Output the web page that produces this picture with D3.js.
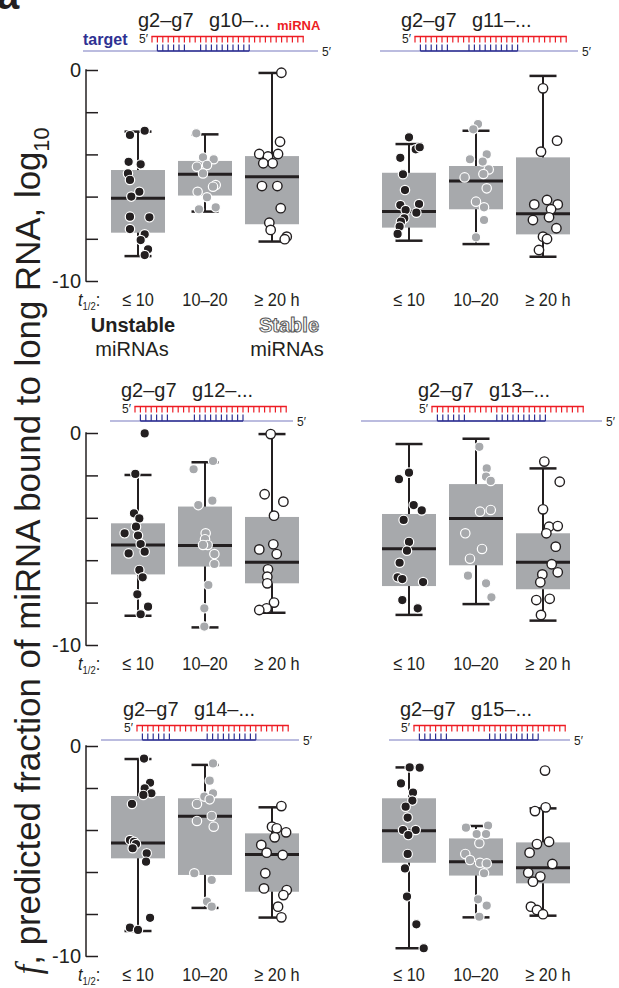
<!DOCTYPE html>
<html>
<head>
<meta charset="utf-8">
<script src="https://d3js.org/d3.v7.min.js"></script>
<style>
  body { margin: 0; background: #fff; }
  svg { display: block; font-family: "Liberation Sans", Arial, Helvetica, sans-serif; }
</style>
</head>
<body>
<div id="container"></div>
<script>
// half-life groups (x categories)
const groups = ["≤ 10", "10–20", "≥ 20 h"];
// first nucleotide of the 3' pairing region in each panel
const siteStarts = [10, 11, 12, 13, 14, 15];
const yTicks = [0, -2, -4, -6, -8, -10];
const yTickLabels = ["0", "", "", "", "", "-10"];

// [low whisker, q1, median, q3, high whisker] for each group, per panel
const boxStats = [
  [[-8.82, -7.71, -6.08, -4.74, -2.92], [-6.71, -5.95, -4.94, -4.31, -3.05], [-8.13, -7.31, -5.06, -4.08, -0.14]],
  [[-8.09, -7.47, -6.71, -4.87, -3.51], [-8.25, -6.6, -5.26, -4.55, -2.88], [-8.85, -7.79, -6.81, -4.14, -0.28]],
  [[-8.62, -6.67, -5.28, -4.26, -1.98], [-9.17, -6.3, -5.31, -3.47, -1.38], [-8.48, -7.09, -6.1, -3.96, -0.05]],
  [[-8.58, -7.22, -5.46, -3.82, -0.52], [-8.07, -6.24, -4.03, -2.41, -0.27], [-8.85, -7.37, -6.1, -4.73, -1.67]],
  [[-8.81, -5.35, -4.62, -2.38, -0.62], [-7.71, -6.14, -3.35, -2.49, -0.9], [-8.17, -6.94, -5.17, -4.16, -2.92]],
  [[-9.63, -5.56, -4.03, -2.49, -1.02], [-8.16, -6.17, -5.51, -4.4, -3.81], [-8.08, -6.54, -5.8, -4.59, -2.97]]
];

// per-miRNA values (log10 f), per panel, per group
const pointValues = [
  [
    [-3.08, -2.88, -4.35, -4.47, -4.9, -5.21, -5.77, -6.0, -6.95, -6.98, -7.54, -7.79, -8.06, -8.5, -8.77],
    [-3.0, -4.14, -4.23, -4.58, -4.5, -4.9, -5.45, -5.53, -5.77, -6.03, -6.6, -6.51],
    [-0.13, -3.4, -3.98, -4.1, -3.98, -4.42, -4.42, -5.5, -5.5, -6.55, -7.24, -7.58, -7.9, -8.02]
  ],
  [
    [-3.19, -3.76, -3.66, -4.16, -4.94, -5.69, -6.4, -6.35, -6.64, -6.76, -7.03, -7.19, -7.42, -7.77],
    [-2.56, -2.81, -4.23, -4.0, -4.34, -4.71, -5.09, -4.93, -5.61, -6.24, -6.51, -7.11, -7.93],
    [-0.87, -3.35, -3.87, -6.37, -6.16, -6.37, -6.6, -6.98, -7.11, -7.5, -7.9, -8.01, -8.53]
  ],
  [
    [-0.02, -1.93, -3.79, -4.03, -4.42, -4.73, -4.84, -5.24, -5.6, -5.68, -6.46, -6.81, -7.61, -8.19, -8.55],
    [-1.32, -1.71, -3.19, -3.4, -4.73, -5.01, -5.28, -5.28, -5.71, -6.18, -7.17, -8.27, -9.13],
    [-0.05, -2.89, -3.24, -3.9, -5.49, -5.25, -5.71, -6.43, -6.78, -7.09, -8.0, -8.27, -8.35]
  ],
  [
    [-1.87, -2.18, -3.4, -3.65, -4.1, -5.14, -5.55, -6.12, -6.81, -6.89, -7.03, -7.88, -8.27],
    [-0.65, -1.67, -2.06, -2.26, -3.71, -3.63, -4.73, -5.47, -5.93, -6.73, -7.09, -7.75],
    [-1.35, -2.3, -3.6, -4.42, -4.39, -4.73, -5.36, -6.19, -6.57, -6.67, -7.04, -7.88, -7.82, -8.58]
  ],
  [
    [-0.6, -1.75, -2.02, -2.25, -2.33, -2.76, -4.48, -4.56, -4.67, -4.87, -5.11, -5.51, -8.18, -8.65, -8.76],
    [-0.83, -1.65, -2.41, -2.25, -2.54, -2.76, -3.33, -3.57, -3.84, -6.06, -6.38, -7.41, -7.65],
    [-2.86, -3.84, -3.92, -4.11, -4.35, -4.71, -5.08, -5.19, -6.06, -6.78, -6.86, -7.1, -7.65, -8.16]
  ],
  [
    [-1.02, -1.03, -1.78, -2.22, -2.6, -2.89, -3.41, -4.0, -4.0, -4.24, -5.14, -5.83, -7.17, -8.49, -9.63],
    [-3.89, -3.79, -4.19, -4.19, -4.63, -5.14, -5.43, -5.56, -5.59, -6.06, -7.3, -7.6, -8.13],
    [-1.17, -3.1, -2.92, -4.67, -4.56, -5.08, -5.62, -6.03, -6.22, -6.46, -7.65, -7.81, -8.01]
  ]
];

// horizontal jitter of each point, in category units
const pointJitter = [
  [
    [-0.12, 0.10, -0.14, 0.04, -0.15, -0.12, 0.02, -0.10, -0.12, 0.17, -0.12, 0.10, 0.04, 0.15, 0.10],
    [-0.13, -0.03, 0.13, -0.12, 0.03, -0.03, 0.16, 0.12, -0.11, 0.03, -0.09, 0.16],
    [0.14, 0.12, -0.19, -0.06, 0.09, 0.01, -0.13, -0.15, 0.08, 0.13, -0.04, -0.02, 0.22, 0.19]
  ],
  [
    [0.0, 0.10, 0.16, -0.13, -0.09, -0.06, -0.13, 0.15, -0.05, 0.11, -0.07, -0.12, -0.14, -0.17],
    [0.03, -0.04, -0.09, 0.16, 0.10, 0.19, -0.17, 0.11, 0.16, 0.0, 0.12, 0.12, 0.0],
    [0.0, 0.21, -0.03, -0.13, 0.06, 0.22, 0.12, 0.09, -0.15, 0.20, 0.0, 0.06, -0.06]
  ],
  [
    [0.10, -0.04, -0.06, 0.02, -0.03, -0.20, 0.0, 0.04, 0.10, -0.14, 0.02, 0.07, -0.01, 0.15, 0.04],
    [0.12, -0.17, 0.11, -0.10, 0.01, 0.0, 0.04, -0.03, 0.14, 0.14, 0.05, -0.01, -0.01],
    [-0.02, -0.11, 0.17, 0.03, -0.19, 0.02, 0.07, -0.06, -0.07, -0.07, 0.03, -0.08, -0.19]
  ],
  [
    [0.0, -0.15, 0.07, 0.19, -0.08, 0.0, -0.03, -0.14, -0.17, -0.10, 0.21, -0.10, 0.13],
    [0.05, 0.16, 0.15, 0.22, 0.06, 0.22, -0.16, 0.09, -0.09, -0.12, 0.15, 0.23],
    [0.02, 0.25, 0.0, 0.09, 0.22, 0.05, 0.19, 0.13, 0.22, -0.01, -0.04, -0.10, 0.10, -0.03]
  ],
  [
    [0.09, 0.18, 0.10, 0.20, 0.08, -0.09, -0.12, -0.06, -0.03, -0.08, 0.13, 0.12, 0.18, -0.12, 0.0],
    [0.12, 0.07, -0.01, 0.12, 0.07, -0.12, 0.10, -0.12, 0.13, -0.16, 0.10, 0.03, 0.10],
    [0.14, 0.0, 0.07, 0.21, 0.04, -0.16, -0.08, 0.16, -0.10, -0.12, 0.22, 0.17, 0.09, 0.14]
  ],
  [
    [0.01, 0.16, -0.12, 0.06, 0.05, -0.05, -0.02, -0.09, 0.10, -0.01, -0.02, -0.06, -0.03, 0.11, 0.22],
    [-0.15, 0.18, 0.01, 0.15, 0.05, -0.16, -0.09, 0.06, 0.16, 0.12, 0.03, 0.16, 0.05],
    [0.03, -0.12, 0.04, -0.09, 0.09, -0.20, 0.14, -0.22, -0.04, -0.15, -0.18, -0.09, 0.0]
  ]
];

const width = 619, height = 988;
const ink = "#231f20", boxGrey = "#a7a9ac", red = "#ed1c24", navy = "#2e3192", paleBlue = "#a4a6d4";

// layout of the 3x2 grid
const colRange = [[138, 272], [409, 543]];
const rowLayout = [
  { top: 70, bottom: 281, title: 27 },
  { top: 433, bottom: 645, title: 397 },
  { top: 746, bottom: 956, title: 716 }
];
const mirnaStart = [152, 415, 135, 432, 137, 414];
const targetSpan = [[83, 318], [380, 578], [110, 293], [361, 602], [101, 299], [389, 570]];

const svg = d3.select('#container')
  .append('svg')
  .attr('width', width)
  .attr('height', height);

// panel letter, cut at the top edge as in the figure
svg.append('text')
  .attr('x', -3).attr('y', 9)
  .attr('font-size', 40).attr('font-weight', 'bold')
  .attr('fill', ink)
  .text('a');

const fill = [ink, boxGrey, '#fff'];
const stroke = ['#fff', '#fff', ink];
const squeeze = 0.86; // condensed look of the half-life labels

pointValues.forEach((panel, p) => {
  const col = p % 2, row = Math.floor(p / 2);
  const L = rowLayout[row];
  const x = d3.scaleLinear().domain([0, 2]).range(colRange[col]);
  const y = d3.scaleLinear().domain([-10, 0]).range([L.bottom, L.top]);
  const g = svg.append('g');

  // ---- miRNA / target pairing diagram
  const nt = d3.scaleLinear().domain([1, 29]).range([mirnaStart[p], mirnaStart[p] + 28 * 5.4]);
  const redY = L.title + 9.5, blueY = L.title + 24;
  const k = siteStarts[p];

  g.append('text')
    .attr('x', mirnaStart[p] - 14).attr('y', L.title)
    .attr('font-size', 20).attr('fill', ink)
    .text('g2–g7');
  g.append('text')
    .attr('x', mirnaStart[p] + 57).attr('y', L.title)
    .attr('font-size', 20).attr('fill', ink)
    .text('g' + k + '–...');

  g.append('line')
    .attr('x1', targetSpan[p][0]).attr('x2', targetSpan[p][1])
    .attr('y1', blueY).attr('y2', blueY)
    .attr('stroke', paleBlue).attr('stroke-width', 1.6);
  g.append('line')
    .attr('x1', nt(2)).attr('x2', nt(k + 9))
    .attr('y1', blueY).attr('y2', blueY)
    .attr('stroke', navy).attr('stroke-width', 1.6);

  const paired = d3.range(2, 8).concat(d3.range(k, k + 10));
  g.selectAll('.bt').data(paired).enter().append('line')
    .attr('x1', d => nt(d)).attr('x2', d => nt(d))
    .attr('y1', blueY).attr('y2', blueY - 6.5)
    .attr('stroke', navy).attr('stroke-width', 1.2);

  g.append('line')
    .attr('x1', nt(1) - 0.6).attr('x2', nt(29) + 0.6)
    .attr('y1', redY).attr('y2', redY)
    .attr('stroke', red).attr('stroke-width', 1.6);
  g.selectAll('.rt').data(d3.range(1, 30)).enter().append('line')
    .attr('x1', d => nt(d)).attr('x2', d => nt(d))
    .attr('y1', redY).attr('y2', redY + 6)
    .attr('stroke', red).attr('stroke-width', 1.2);

  g.append('text')
    .attr('x', mirnaStart[p] - 13).attr('y', redY + 6.5)
    .attr('font-size', 12).attr('fill', ink)
    .text('5′');
  g.append('text')
    .attr('x', targetSpan[p][1] + 4).attr('y', blueY + 4.5)
    .attr('font-size', 12).attr('fill', ink)
    .text('5′');

  if (p === 0) {
    g.append('text')
      .attr('x', 277).attr('y', L.title + 3)
      .attr('font-size', 13).attr('font-weight', 'bold').attr('fill', red)
      .text('miRNA');
    g.append('text')
      .attr('x', 83).attr('y', L.title + 18)
      .attr('font-size', 16).attr('font-weight', 'bold').attr('fill', navy)
      .text('target');
  }

  // ---- y axis on the left column
  if (col === 0) {
    const axis = g.append('g').attr('transform', 'translate(86,0)')
      .call(d3.axisRight(y).tickValues(yTicks).tickSize(12).tickFormat(''));
    axis.select('.domain').remove();
    axis.selectAll('line').attr('stroke', ink).attr('stroke-width', 1.5);
    g.append('line')
      .attr('x1', 86).attr('x2', 86)
      .attr('y1', y(0) - 0.75).attr('y2', y(-10) + 0.75)
      .attr('stroke', ink).attr('stroke-width', 1.5);
    g.selectAll('.yl').data(yTicks).enter().append('text')
      .attr('x', 81).attr('y', d => y(d) + 7)
      .attr('text-anchor', 'end').attr('font-size', 20).attr('fill', ink)
      .text((d, i) => yTickLabels[i]);
  }

  // ---- boxes
  boxStats[p].forEach((s, i) => {
    const cx = x(i);
    g.append('line')
      .attr('x1', cx).attr('x2', cx)
      .attr('y1', y(s[0])).attr('y2', y(s[4]))
      .attr('stroke', ink).attr('stroke-width', 2);
    [s[0], s[4]].forEach(v => {
      g.append('line')
        .attr('x1', cx - 13.5).attr('x2', cx + 13.5)
        .attr('y1', y(v)).attr('y2', y(v))
        .attr('stroke', ink).attr('stroke-width', 2.5);
    });
    g.append('rect')
      .attr('x', cx - 27).attr('width', 54)
      .attr('y', y(s[3])).attr('height', y(s[1]) - y(s[3]))
      .attr('fill', boxGrey);
    g.append('line')
      .attr('x1', cx - 27).attr('x2', cx + 27)
      .attr('y1', y(s[2])).attr('y2', y(s[2]))
      .attr('stroke', ink).attr('stroke-width', 3);
  });

  // ---- points
  panel.forEach((vals, i) => {
    g.selectAll('.pt' + i).data(vals).enter().append('circle')
      .attr('cx', (d, j) => x(i + pointJitter[p][i][j]))
      .attr('cy', d => y(d))
      .attr('r', 4.7)
      .attr('fill', fill[i])
      .attr('stroke', stroke[i])
      .attr('stroke-width', i === 2 ? 1.4 : 1.2);
  });

  // ---- half-life labels
  const lab = L.bottom + 25;
  g.selectAll('.xl').data(groups).enter().append('text')
    .attr('transform', (d, i) => `translate(${x(i) + (i === 2 ? 5 : 0)},${lab}) scale(${squeeze},1)`)
    .attr('text-anchor', 'middle')
    .attr('font-size', 19).attr('fill', ink)
    .text(d => d);
  if (col === 0) {
    const t = g.append('text')
      .attr('transform', `translate(78,${lab}) scale(${squeeze},1)`)
      .attr('font-size', 19).attr('fill', ink);
    t.append('tspan').attr('font-style', 'italic').text('t');
    t.append('tspan').attr('font-size', 11).attr('dy', 4).text('1/2');
    t.append('tspan').attr('dy', -4).text(':');
  }
});

// stability captions under the first panel
svg.append('text')
  .attr('x', 133).attr('y', 332)
  .attr('text-anchor', 'middle').attr('font-size', 20).attr('font-weight', 'bold')
  .attr('fill', ink).text('Unstable');
svg.append('text')
  .attr('x', 132).attr('y', 356)
  .attr('text-anchor', 'middle').attr('font-size', 20)
  .attr('fill', ink).text('miRNAs');
svg.append('text')
  .attr('x', 289).attr('y', 332)
  .attr('text-anchor', 'middle').attr('font-size', 20).attr('font-weight', 'bold')
  .attr('fill', '#fff').attr('stroke', '#555').attr('stroke-width', 1)
  .text('Stable');
svg.append('text')
  .attr('x', 287).attr('y', 356)
  .attr('text-anchor', 'middle').attr('font-size', 20)
  .attr('fill', ink).text('miRNAs');

// shared y-axis title
const ylab = svg.append('text')
  .attr('transform', 'translate(40,551) rotate(-90)')
  .attr('text-anchor', 'middle')
  .attr('font-size', 26).attr('fill', ink);
ylab.append('tspan').attr('font-family', '"Liberation Serif", serif').attr('font-style', 'italic').text('f');
ylab.append('tspan').text(', predicted fraction of miRNA bound to long RNA, log');
ylab.append('tspan').attr('font-size', 16).attr('dy', 6).text('10');
const len = ylab.node().getComputedTextLength();
const fs = 26 * 847 / len;
ylab.attr('font-size', fs);
ylab.select('tspan:last-child').attr('font-size', fs * 0.62).attr('dy', fs * 0.25);
</script>
</body>
</html>
